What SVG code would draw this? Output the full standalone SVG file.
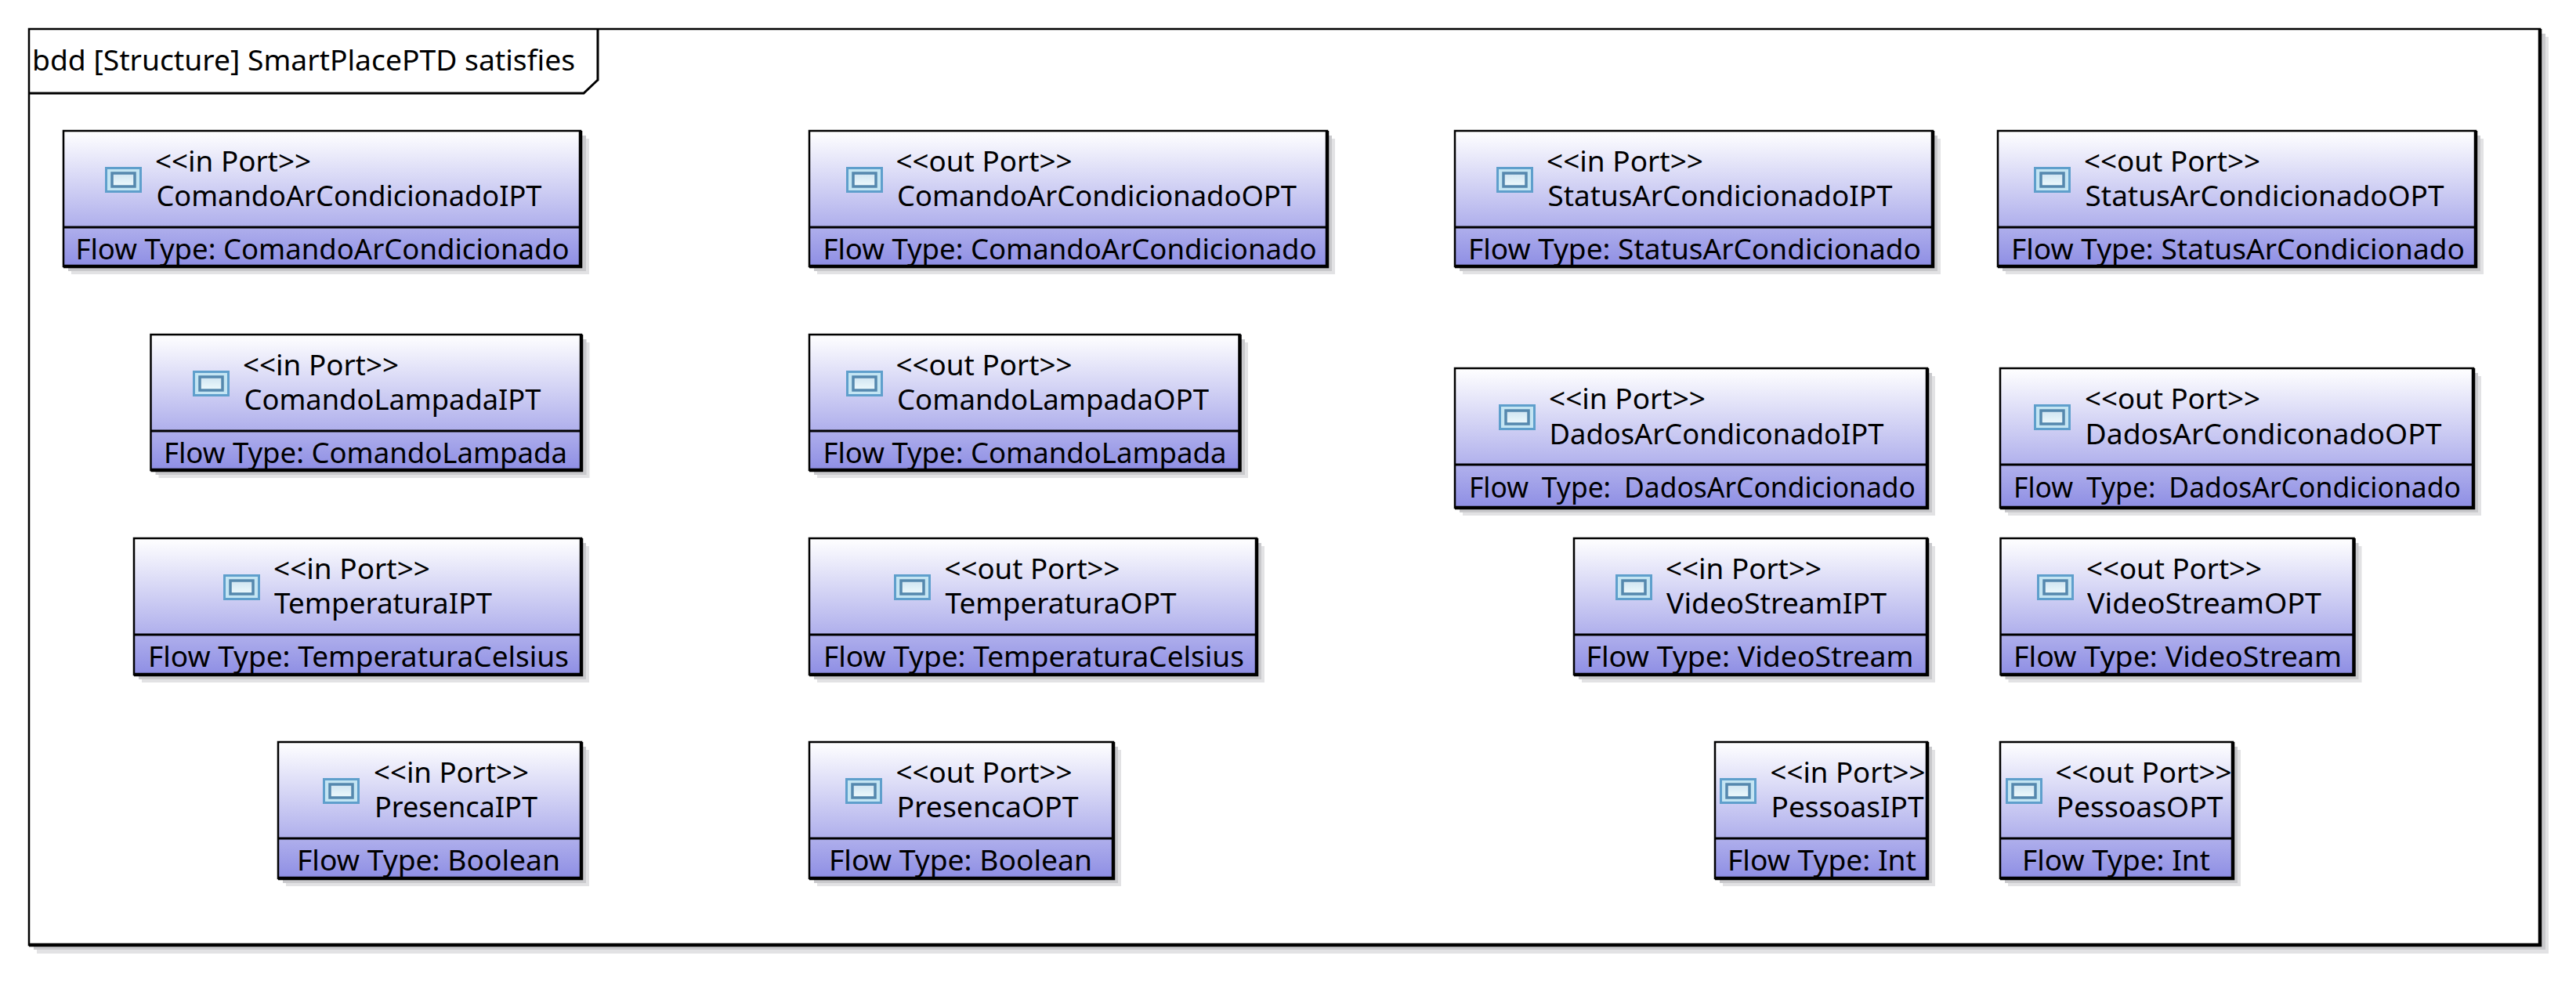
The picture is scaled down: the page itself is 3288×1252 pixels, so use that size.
<svg xmlns="http://www.w3.org/2000/svg" xmlns:xlink="http://www.w3.org/1999/xlink" width="3288" height="1252" viewBox="0 0 3288 1252">
<style>
text{font-family:"Noto Sans","Open Sans","DejaVu Sans",sans-serif;font-size:37px;fill:#000;white-space:pre}
.sh1{fill:#e2e2e4}
.sh2{fill:#c9c9cc}
.body{fill:url(#grad);stroke:#000;stroke-width:2.5}
.heavy{fill:none;stroke:#000;stroke-width:4.5}
.div{fill:none;stroke:#000;stroke-width:3}
.frame{fill:#fff;stroke:#000;stroke-width:2.5}
</style>
<defs>
<linearGradient id="grad" x1="0" y1="0" x2="0" y2="1">
<stop offset="0" stop-color="#ffffff"/>
<stop offset="1" stop-color="#8e8ee4"/>
</linearGradient>
<linearGradient id="iconIn" x1="0" y1="0" x2="0" y2="1">
<stop offset="0" stop-color="#cfe4f1"/>
<stop offset="1" stop-color="#eefafd"/>
</linearGradient>
<filter id="soft" x="-10%" y="-10%" width="120%" height="120%"><feGaussianBlur stdDeviation="0.6"/></filter>
<g id="icon" filter="url(#soft)">
<rect x="1.500" y="1.500" width="44" height="30" fill="#c4e5f3" stroke="#5f9fcc" stroke-width="3"/>
<rect x="9" y="8" width="29" height="17" fill="url(#iconIn)" stroke="#5488ae" stroke-width="3.500"/>
</g>
</defs>
<g id="frame">
<rect class="sh1" x="47" y="47" width="3206" height="1170"/>
<rect class="sh2" x="43" y="43" width="3206" height="1169"/>
<rect class="frame" x="37" y="37" width="3205" height="1169"/>
<path class="heavy" d="M3242 37V1206H37"/>
<path d="M37 119H745L763 102V37" fill="none" stroke="#000" stroke-width="3"/>
<text x="41" y="90" textLength="693" lengthAdjust="spacingAndGlyphs">bdd [Structure] SmartPlacePTD satisfies</text>
</g>
<g id="connectors"/>
<g id="ComandoArCondicionadoIPT">
<rect class="sh1" x="91" y="177" width="661" height="173"/><rect class="sh2" x="87" y="173" width="661" height="173"/>
<rect class="body" x="81" y="167" width="660" height="173"/><path class="heavy" d="M741 167V340H81"/><path class="div" d="M81 290H741"/>
<use xlink:href="#icon" href="#icon" x="134" y="213"/>
<text x="198" y="219" textLength="199" lengthAdjust="spacingAndGlyphs">&lt;&lt;in Port&gt;&gt;</text>
<text x="199.500" y="263" textLength="492" lengthAdjust="spacingAndGlyphs">ComandoArCondicionadoIPT</text>
<text x="96.500" y="331" textLength="630" lengthAdjust="spacingAndGlyphs">Flow Type: ComandoArCondicionado</text>
</g>
<g id="ComandoLampadaIPT">
<rect class="sh1" x="202.500" y="437" width="550" height="173"/><rect class="sh2" x="198.500" y="433" width="550" height="173"/>
<rect class="body" x="192.500" y="427" width="549.500" height="173"/><path class="heavy" d="M742 427V600H192.500"/><path class="div" d="M192.500 550H742"/>
<use xlink:href="#icon" href="#icon" x="246" y="473"/>
<text x="310" y="479" textLength="199" lengthAdjust="spacingAndGlyphs">&lt;&lt;in Port&gt;&gt;</text>
<text x="311.500" y="523" textLength="379" lengthAdjust="spacingAndGlyphs">ComandoLampadaIPT</text>
<text x="209" y="591" textLength="515" lengthAdjust="spacingAndGlyphs">Flow Type: ComandoLampada</text>
</g>
<g id="TemperaturaIPT">
<rect class="sh1" x="181" y="697" width="571" height="174"/><rect class="sh2" x="177" y="693" width="571" height="174"/>
<rect class="body" x="171" y="687" width="571" height="174"/><path class="heavy" d="M742 687V861H171"/><path class="div" d="M171 810H742"/>
<use xlink:href="#icon" href="#icon" x="285" y="733"/>
<text x="349" y="739" textLength="200" lengthAdjust="spacingAndGlyphs">&lt;&lt;in Port&gt;&gt;</text>
<text x="350" y="783" textLength="278" lengthAdjust="spacingAndGlyphs">TemperaturaIPT</text>
<text x="189" y="851" textLength="537" lengthAdjust="spacingAndGlyphs">Flow Type: TemperaturaCelsius</text>
</g>
<g id="PresencaIPT">
<rect class="sh1" x="365" y="957" width="387" height="174"/><rect class="sh2" x="361" y="953" width="387" height="174"/>
<rect class="body" x="355" y="947" width="387" height="174"/><path class="heavy" d="M742 947V1121H355"/><path class="div" d="M355 1070H742"/>
<use xlink:href="#icon" href="#icon" x="412" y="993"/>
<text x="477" y="999" textLength="198" lengthAdjust="spacingAndGlyphs">&lt;&lt;in Port&gt;&gt;</text>
<text x="478" y="1043" textLength="208" lengthAdjust="spacingAndGlyphs">PresencaIPT</text>
<text x="379" y="1111" textLength="336" lengthAdjust="spacingAndGlyphs">Flow Type: Boolean</text>
</g>
<g id="ComandoArCondicionadoOPT">
<rect class="sh1" x="1043" y="177" width="661" height="173"/><rect class="sh2" x="1039" y="173" width="661" height="173"/>
<rect class="body" x="1033" y="167" width="661" height="173"/><path class="heavy" d="M1694 167V340H1033"/><path class="div" d="M1033 290H1694"/>
<use xlink:href="#icon" href="#icon" x="1080" y="213"/>
<text x="1143.500" y="219" textLength="225" lengthAdjust="spacingAndGlyphs">&lt;&lt;out Port&gt;&gt;</text>
<text x="1145" y="263" textLength="510" lengthAdjust="spacingAndGlyphs">ComandoArCondicionadoOPT</text>
<text x="1050.500" y="331" textLength="630" lengthAdjust="spacingAndGlyphs">Flow Type: ComandoArCondicionado</text>
</g>
<g id="ComandoLampadaOPT">
<rect class="sh1" x="1043" y="437" width="550" height="173"/><rect class="sh2" x="1039" y="433" width="550" height="173"/>
<rect class="body" x="1033" y="427" width="549.500" height="173"/><path class="heavy" d="M1582.500 427V600H1033"/><path class="div" d="M1033 550H1582.500"/>
<use xlink:href="#icon" href="#icon" x="1080" y="473"/>
<text x="1143.500" y="479" textLength="225" lengthAdjust="spacingAndGlyphs">&lt;&lt;out Port&gt;&gt;</text>
<text x="1145" y="523" textLength="398" lengthAdjust="spacingAndGlyphs">ComandoLampadaOPT</text>
<text x="1050.500" y="591" textLength="515" lengthAdjust="spacingAndGlyphs">Flow Type: ComandoLampada</text>
</g>
<g id="TemperaturaOPT">
<rect class="sh1" x="1043" y="697" width="571" height="174"/><rect class="sh2" x="1039" y="693" width="571" height="174"/>
<rect class="body" x="1033" y="687" width="571" height="174"/><path class="heavy" d="M1604 687V861H1033"/><path class="div" d="M1033 810H1604"/>
<use xlink:href="#icon" href="#icon" x="1141" y="733"/>
<text x="1205.500" y="739" textLength="224" lengthAdjust="spacingAndGlyphs">&lt;&lt;out Port&gt;&gt;</text>
<text x="1206.500" y="783" textLength="295" lengthAdjust="spacingAndGlyphs">TemperaturaOPT</text>
<text x="1051" y="851" textLength="537" lengthAdjust="spacingAndGlyphs">Flow Type: TemperaturaCelsius</text>
</g>
<g id="PresencaOPT">
<rect class="sh1" x="1043" y="957" width="388" height="174"/><rect class="sh2" x="1039" y="953" width="388" height="174"/>
<rect class="body" x="1033" y="947" width="388" height="174"/><path class="heavy" d="M1421 947V1121H1033"/><path class="div" d="M1033 1070H1421"/>
<use xlink:href="#icon" href="#icon" x="1079" y="993"/>
<text x="1143.500" y="999" textLength="225" lengthAdjust="spacingAndGlyphs">&lt;&lt;out Port&gt;&gt;</text>
<text x="1144.500" y="1043" textLength="232" lengthAdjust="spacingAndGlyphs">PresencaOPT</text>
<text x="1058" y="1111" textLength="336" lengthAdjust="spacingAndGlyphs">Flow Type: Boolean</text>
</g>
<g id="StatusArCondicionadoIPT">
<rect class="sh1" x="1867" y="177" width="610" height="173"/><rect class="sh2" x="1863" y="173" width="610" height="173"/>
<rect class="body" x="1857" y="167" width="610" height="173"/><path class="heavy" d="M2467 167V340H1857"/><path class="div" d="M1857 290H2467"/>
<use xlink:href="#icon" href="#icon" x="1910" y="213"/>
<text x="1974" y="219" textLength="200" lengthAdjust="spacingAndGlyphs">&lt;&lt;in Port&gt;&gt;</text>
<text x="1975.500" y="263" textLength="440" lengthAdjust="spacingAndGlyphs">StatusArCondicionadoIPT</text>
<text x="1874" y="331" textLength="578" lengthAdjust="spacingAndGlyphs">Flow Type: StatusArCondicionado</text>
</g>
<g id="StatusArCondicionadoOPT">
<rect class="sh1" x="2560" y="177" width="610" height="173"/><rect class="sh2" x="2556" y="173" width="610" height="173"/>
<rect class="body" x="2550" y="167" width="610" height="173"/><path class="heavy" d="M3160 167V340H2550"/><path class="div" d="M2550 290H3160"/>
<use xlink:href="#icon" href="#icon" x="2596" y="213"/>
<text x="2660" y="219" textLength="225" lengthAdjust="spacingAndGlyphs">&lt;&lt;out Port&gt;&gt;</text>
<text x="2661.500" y="263" textLength="458" lengthAdjust="spacingAndGlyphs">StatusArCondicionadoOPT</text>
<text x="2567" y="331" textLength="579" lengthAdjust="spacingAndGlyphs">Flow Type: StatusArCondicionado</text>
</g>
<g id="DadosArCondiconadoIPT">
<rect class="sh1" x="1867" y="480" width="603" height="178"/><rect class="sh2" x="1863" y="476" width="603" height="178"/>
<rect class="body" x="1857" y="470" width="603" height="178"/><path class="heavy" d="M2460 470V648H1857"/><path class="div" d="M1857 593H2460"/>
<use xlink:href="#icon" href="#icon" x="1913" y="516"/>
<text x="1977" y="522" textLength="200" lengthAdjust="spacingAndGlyphs">&lt;&lt;in Port&gt;&gt;</text>
<text x="1977.500" y="567" textLength="427" lengthAdjust="spacingAndGlyphs">DadosArCondiconadoIPT</text>
<text x="1875" y="635" textLength="570" lengthAdjust="spacingAndGlyphs" word-spacing="8">Flow Type: DadosArCondicionado</text>
</g>
<g id="DadosArCondiconadoOPT">
<rect class="sh1" x="2563" y="480" width="604" height="178"/><rect class="sh2" x="2559" y="476" width="604" height="178"/>
<rect class="body" x="2553" y="470" width="604" height="178"/><path class="heavy" d="M3157 470V648H2553"/><path class="div" d="M2553 593H3157"/>
<use xlink:href="#icon" href="#icon" x="2596" y="516"/>
<text x="2661" y="522" textLength="224" lengthAdjust="spacingAndGlyphs">&lt;&lt;out Port&gt;&gt;</text>
<text x="2661.500" y="567" textLength="455" lengthAdjust="spacingAndGlyphs">DadosArCondiconadoOPT</text>
<text x="2570" y="635" textLength="571" lengthAdjust="spacingAndGlyphs" word-spacing="8">Flow Type: DadosArCondicionado</text>
</g>
<g id="VideoStreamIPT">
<rect class="sh1" x="2019" y="697" width="451" height="174"/><rect class="sh2" x="2015" y="693" width="451" height="174"/>
<rect class="body" x="2009" y="687" width="451" height="174"/><path class="heavy" d="M2460 687V861H2009"/><path class="div" d="M2009 810H2460"/>
<use xlink:href="#icon" href="#icon" x="2062" y="733"/>
<text x="2126" y="739" textLength="199" lengthAdjust="spacingAndGlyphs">&lt;&lt;in Port&gt;&gt;</text>
<text x="2127" y="783" textLength="281" lengthAdjust="spacingAndGlyphs">VideoStreamIPT</text>
<text x="2024.500" y="851" textLength="418" lengthAdjust="spacingAndGlyphs">Flow Type: VideoStream</text>
</g>
<g id="VideoStreamOPT">
<rect class="sh1" x="2563.500" y="697" width="451" height="174"/><rect class="sh2" x="2559.500" y="693" width="451" height="174"/>
<rect class="body" x="2553.500" y="687" width="451" height="174"/><path class="heavy" d="M3004.500 687V861H2553.500"/><path class="div" d="M2553.500 810H3004.500"/>
<use xlink:href="#icon" href="#icon" x="2600" y="733"/>
<text x="2663" y="739" textLength="224" lengthAdjust="spacingAndGlyphs">&lt;&lt;out Port&gt;&gt;</text>
<text x="2664" y="783" textLength="299" lengthAdjust="spacingAndGlyphs">VideoStreamOPT</text>
<text x="2570" y="851" textLength="419" lengthAdjust="spacingAndGlyphs">Flow Type: VideoStream</text>
</g>
<g id="PessoasIPT">
<rect class="sh1" x="2199" y="957" width="271" height="174"/><rect class="sh2" x="2195" y="953" width="271" height="174"/>
<rect class="body" x="2189" y="947" width="271" height="174"/><path class="heavy" d="M2460 947V1121H2189"/><path class="div" d="M2189 1070H2460"/>
<use xlink:href="#icon" href="#icon" x="2195" y="993"/>
<text x="2259.500" y="999" textLength="198" lengthAdjust="spacingAndGlyphs">&lt;&lt;in Port&gt;&gt;</text>
<text x="2260.500" y="1043" textLength="195" lengthAdjust="spacingAndGlyphs">PessoasIPT</text>
<text x="2205" y="1111" textLength="241" lengthAdjust="spacingAndGlyphs">Flow Type: Int</text>
</g>
<g id="PessoasOPT">
<rect class="sh1" x="2563" y="957" width="297" height="174"/><rect class="sh2" x="2559" y="953" width="297" height="174"/>
<rect class="body" x="2553" y="947" width="297" height="174"/><path class="heavy" d="M2850 947V1121H2553"/><path class="div" d="M2553 1070H2850"/>
<use xlink:href="#icon" href="#icon" x="2560" y="993"/>
<text x="2623.500" y="999" textLength="225" lengthAdjust="spacingAndGlyphs">&lt;&lt;out Port&gt;&gt;</text>
<text x="2624.500" y="1043" textLength="213" lengthAdjust="spacingAndGlyphs">PessoasOPT</text>
<text x="2581" y="1111" textLength="240" lengthAdjust="spacingAndGlyphs">Flow Type: Int</text>
</g>
</svg>
